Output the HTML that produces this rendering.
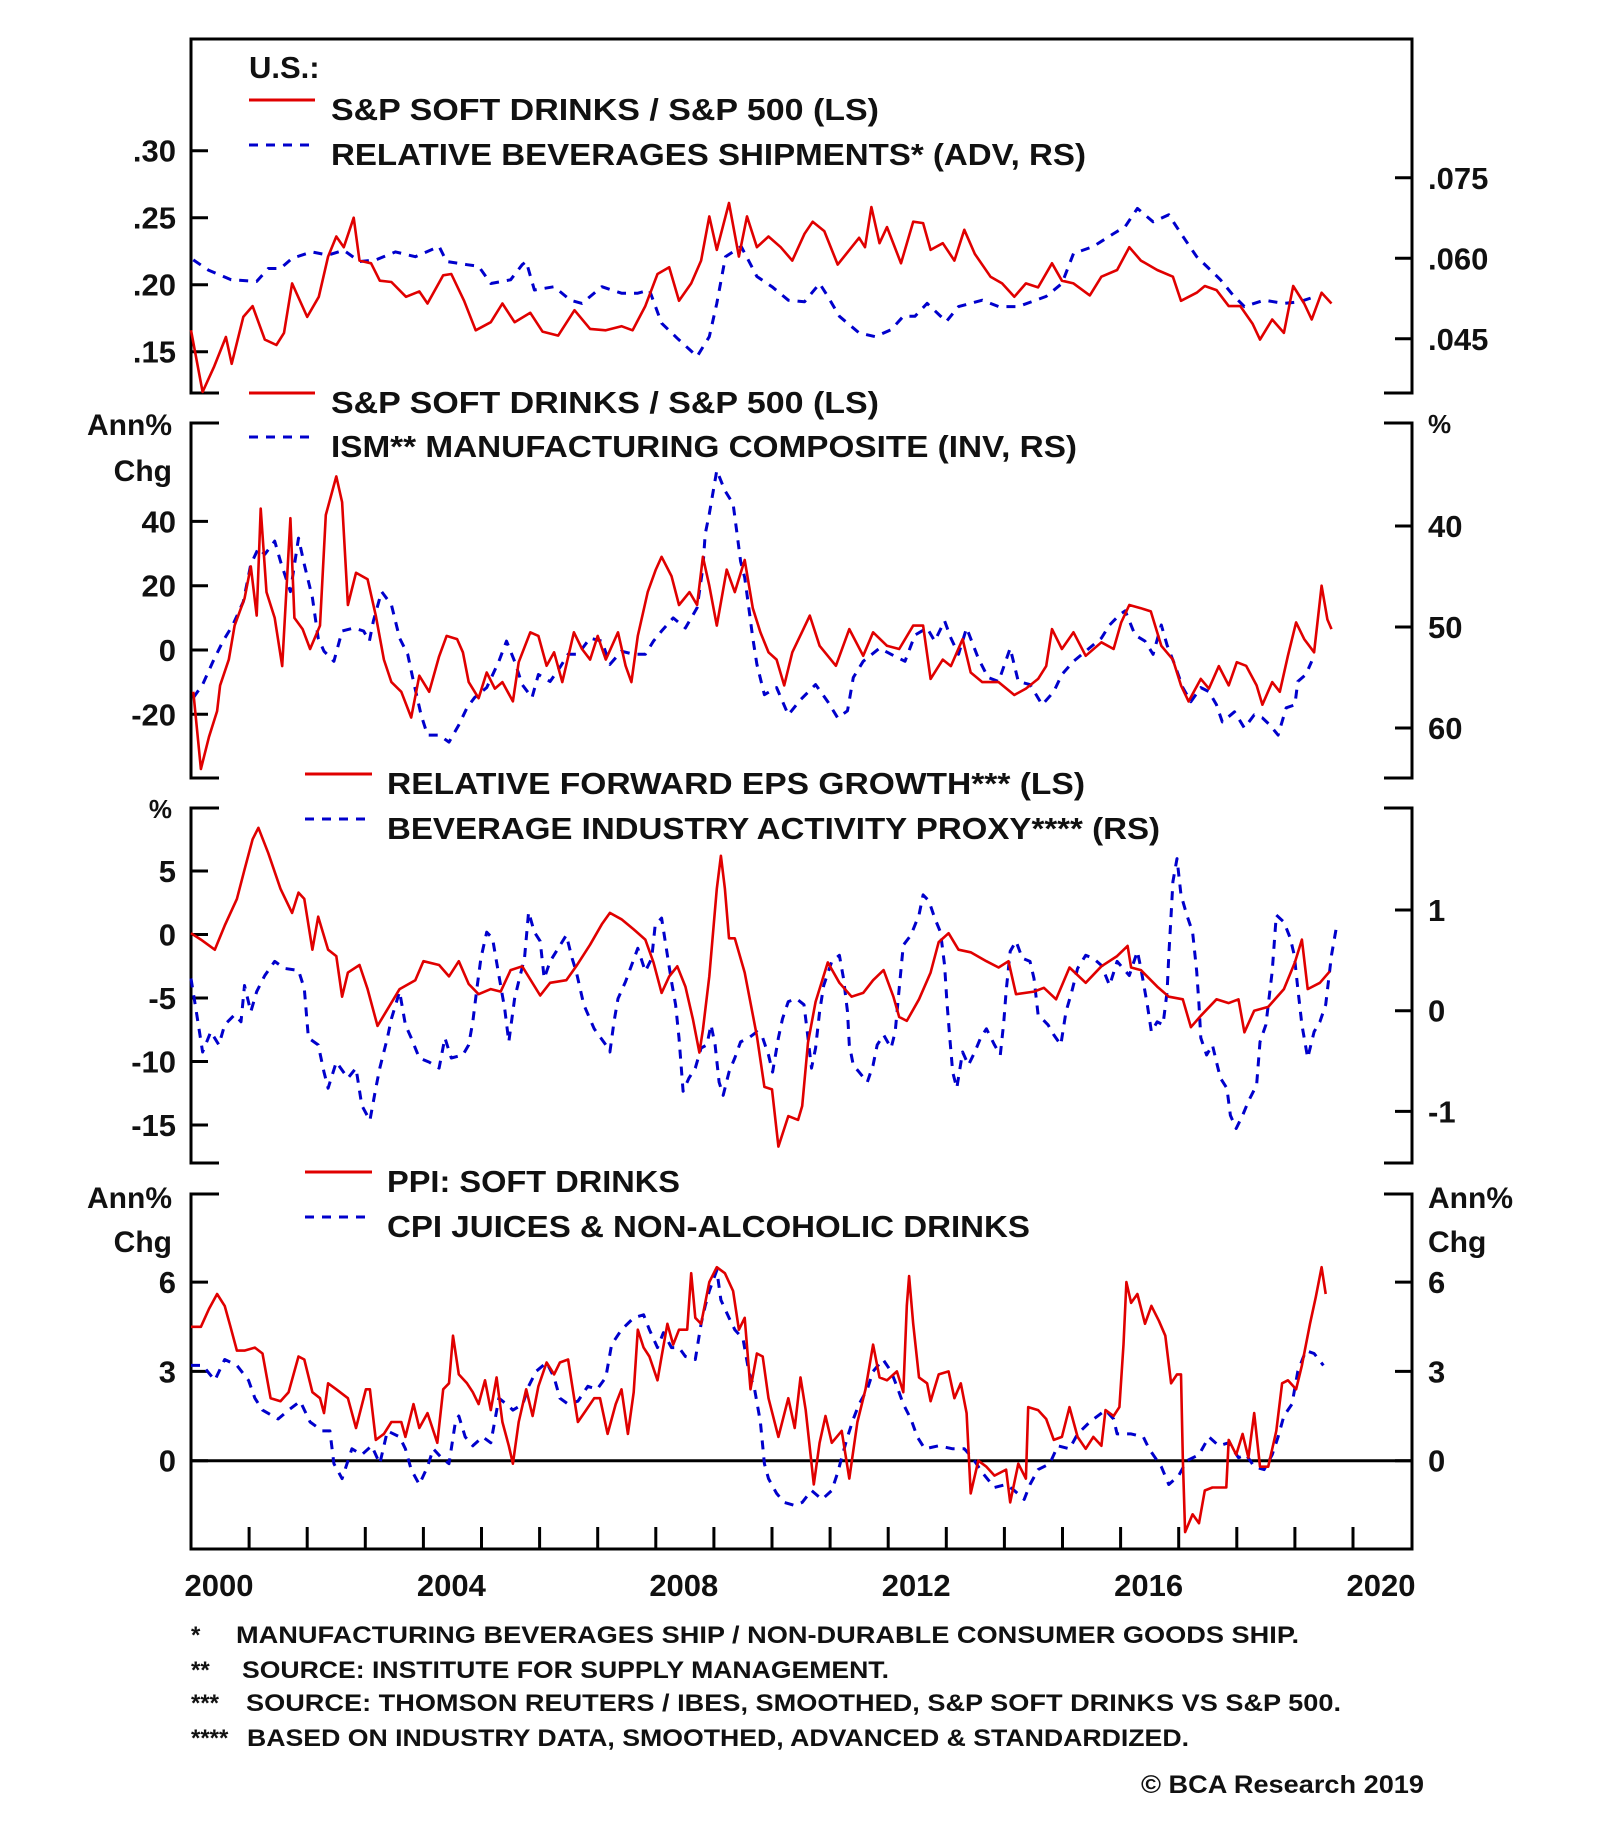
<!DOCTYPE html>
<html><head><meta charset="utf-8"><style>
html,body{margin:0;padding:0;background:#fff;}
svg{display:block;}
text{font-family:"Liberation Sans",Arial,sans-serif;font-weight:bold;fill:#111;}
</style></head><body>
<svg id="chart" width="1600" height="1834" viewBox="0 0 1600 1834" xmlns="http://www.w3.org/2000/svg">
<g id="frames"></g>
<g id="marks"></g>
<g id="labels"></g>

<g>
<text x="249" y="78" font-size="31">U.S.:</text>
<line x1="249" y1="100" x2="315" y2="100" stroke="#e00000" stroke-width="3"/>
<text x="331" y="120" font-size="31" textLength="548" lengthAdjust="spacingAndGlyphs">S&amp;P SOFT DRINKS / S&amp;P 500 (LS)</text>
<line x1="249" y1="145" x2="315" y2="145" stroke="#0000cc" stroke-width="3" stroke-dasharray="9 8"/>
<text x="331" y="165" font-size="31" textLength="755" lengthAdjust="spacingAndGlyphs">RELATIVE BEVERAGES SHIPMENTS* (ADV, RS)</text>
</g>
<g>
<line x1="249" y1="393" x2="315" y2="393" stroke="#e00000" stroke-width="3"/>
<text x="331" y="413" font-size="31" textLength="548" lengthAdjust="spacingAndGlyphs">S&amp;P SOFT DRINKS / S&amp;P 500 (LS)</text>
<line x1="249" y1="437" x2="315" y2="437" stroke="#0000cc" stroke-width="3" stroke-dasharray="9 8"/>
<text x="331" y="457" font-size="31" textLength="746" lengthAdjust="spacingAndGlyphs">ISM** MANUFACTURING COMPOSITE (INV, RS)</text>
</g>
<g>
<line x1="305" y1="774" x2="372" y2="774" stroke="#e00000" stroke-width="3"/>
<text x="387" y="794" font-size="31" textLength="698" lengthAdjust="spacingAndGlyphs">RELATIVE FORWARD EPS GROWTH*** (LS)</text>
<line x1="305" y1="819" x2="372" y2="819" stroke="#0000cc" stroke-width="3" stroke-dasharray="9 8"/>
<text x="387" y="839" font-size="31" textLength="773" lengthAdjust="spacingAndGlyphs">BEVERAGE INDUSTRY ACTIVITY PROXY**** (RS)</text>
</g>
<g>
<line x1="305" y1="1172" x2="372" y2="1172" stroke="#e00000" stroke-width="3"/>
<text x="387" y="1192" font-size="31" textLength="293" lengthAdjust="spacingAndGlyphs">PPI: SOFT DRINKS</text>
<line x1="305" y1="1217" x2="372" y2="1217" stroke="#0000cc" stroke-width="3" stroke-dasharray="9 8"/>
<text x="387" y="1237" font-size="31" textLength="643" lengthAdjust="spacingAndGlyphs">CPI JUICES &amp; NON-ALCOHOLIC DRINKS</text>
</g>

<g>
<text x="172" y="435" font-size="30" text-anchor="end">Ann%</text>
<text x="172" y="481" font-size="30" text-anchor="end">Chg</text>
<text x="1428" y="433" font-size="26">%</text>
<text x="172" y="818" font-size="26" text-anchor="end">%</text>
<text x="172" y="1208" font-size="30" text-anchor="end">Ann%</text>
<text x="172" y="1252" font-size="30" text-anchor="end">Chg</text>
<text x="1428" y="1208" font-size="30">Ann%</text>
<text x="1428" y="1252" font-size="30">Chg</text>
</g>

<g>
<text x="191" y="1643" font-size="24">*</text>
<text x="236" y="1643" font-size="24" textLength="1063" lengthAdjust="spacingAndGlyphs">MANUFACTURING BEVERAGES SHIP / NON-DURABLE CONSUMER GOODS SHIP.</text>
<text x="191" y="1678" font-size="24">**</text>
<text x="242" y="1678" font-size="24" textLength="647" lengthAdjust="spacingAndGlyphs">SOURCE: INSTITUTE FOR SUPPLY MANAGEMENT.</text>
<text x="191" y="1711" font-size="24">***</text>
<text x="246" y="1711" font-size="24" textLength="1095" lengthAdjust="spacingAndGlyphs">SOURCE: THOMSON REUTERS / IBES, SMOOTHED, S&amp;P SOFT DRINKS VS S&amp;P 500.</text>
<text x="191" y="1746" font-size="24">****</text>
<text x="247" y="1746" font-size="24" textLength="942" lengthAdjust="spacingAndGlyphs">BASED ON INDUSTRY DATA, SMOOTHED, ADVANCED &amp; STANDARDIZED.</text>
<text x="1141" y="1793" font-size="25" textLength="283" lengthAdjust="spacingAndGlyphs">© BCA Research 2019</text>
</g>
</svg>
<script>
// ---- data ----
const xTickYears = [2000,2004,2008,2012,2016,2020];
const p1LeftTicks = [0.30,0.25,0.20,0.15];
const p1LeftLabels = [".30",".25",".20",".15"];
const p1RightTicks = [0.075,0.060,0.045];
const p1RightLabels = [".075",".060",".045"];
const p2LeftTicks = [40,20,0,-20];
const p2RightTicks = [40,50,60];
const p3LeftTicks = [5,0,-5,-10,-15];
const p3RightTicks = [1,0,-1];
const p4Ticks = [6,3,0];

const sdYears = [2000.0,2000.2,2000.4,2000.6,2000.7,2000.9,2001.06,2001.27,2001.47,2001.6,2001.74,2002.0,2002.2,2002.36,2002.5,2002.63,2002.8,2002.9,2003.1,2003.25,2003.45,2003.7,2003.93,2004.07,2004.34,2004.48,2004.7,2004.9,2005.16,2005.36,2005.57,2005.84,2006.05,2006.32,2006.6,2006.87,2007.14,2007.41,2007.6,2007.82,2008.03,2008.23,2008.4,2008.61,2008.78,2008.92,2009.05,2009.26,2009.43,2009.57,2009.74,2009.94,2010.15,2010.35,2010.56,2010.7,2010.9,2011.13,2011.37,2011.5,2011.6,2011.71,2011.85,2011.98,2012.22,2012.43,2012.6,2012.73,2012.94,2013.14,2013.31,2013.49,2013.76,2013.96,2014.17,2014.37,2014.58,2014.82,2014.99,2015.19,2015.47,2015.67,2015.94,2016.15,2016.35,2016.63,2016.9,2017.04,2017.31,2017.45,2017.65,2017.86,2018.06,2018.27,2018.4,2018.61,2018.81,2018.97,2019.16,2019.29,2019.46,2019.63];
const sdRatio = [.166,.12,.139,.161,.141,.176,.184,.159,.155,.164,.201,.176,.191,.221,.236,.228,.25,.218,.216,.203,.202,.191,.195,.186,.207,.208,.188,.166,.172,.186,.172,.179,.165,.162,.181,.167,.166,.169,.166,.184,.208,.213,.188,.201,.218,.251,.226,.261,.221,.251,.228,.236,.228,.218,.238,.247,.24,.215,.228,.235,.228,.258,.231,.243,.216,.247,.246,.226,.231,.218,.241,.223,.206,.201,.191,.201,.198,.216,.203,.201,.192,.206,.211,.228,.218,.211,.206,.188,.194,.199,.196,.184,.184,.171,.159,.174,.164,.199,.186,.174,.194,.186];

const shipYears = [2000.04,2000.3,2000.69,2001.13,2001.33,2001.54,2001.74,2002.08,2002.36,2002.63,2002.9,2003.18,2003.52,2003.86,2004.27,2004.4,2004.75,2004.95,2005.16,2005.5,2005.7,2005.77,2005.91,2006.25,2006.53,2006.73,2007.07,2007.41,2007.69,2007.89,2008.1,2008.37,2008.71,2008.92,2009.05,2009.2,2009.47,2009.74,2010.0,2010.28,2010.56,2010.82,2010.96,2011.16,2011.5,2011.78,2012.05,2012.26,2012.46,2012.67,2013.0,2013.21,2013.62,2013.9,2014.24,2014.72,2014.99,2015.19,2015.53,2015.88,2016.08,2016.29,2016.56,2016.83,2017.04,2017.31,2017.52,2017.72,2017.93,2018.13,2018.47,2018.81,2019.08,2019.36];
const shipVals = [.0597,.0578,.056,.0557,.0581,.0581,.060,.0612,.0606,.0615,.0594,.0597,.0612,.0603,.0622,.0594,.0588,.0585,.0553,.056,.0588,.0594,.0541,.0547,.0522,.0516,.0547,.0535,.0535,.0541,.0479,.0451,.0417,.0454,.0516,.0603,.0622,.0566,.0547,.0522,.0519,.0553,.0529,.0492,.0461,.0454,.0467,.0492,.0492,.0516,.0482,.051,.0522,.051,.051,.0529,.0553,.0609,.0622,.0646,.0659,.0693,.0668,.0681,.0646,.0603,.0581,.056,.0532,.051,.0522,.0516,.0519,.0529];

const sdChgYears = [2000.04,2000.17,2000.31,2000.45,2000.5,2000.65,2000.75,2000.92,2001.03,2001.13,2001.2,2001.3,2001.44,2001.57,2001.71,2001.78,2001.92,2002.05,2002.22,2002.32,2002.5,2002.6,2002.7,2002.84,2003.04,2003.18,2003.32,2003.45,2003.62,2003.79,2003.93,2004.1,2004.27,2004.4,2004.58,2004.68,2004.78,2004.95,2005.09,2005.23,2005.36,2005.54,2005.64,2005.84,2005.98,2006.12,2006.25,2006.39,2006.59,2006.73,2006.87,2007.0,2007.14,2007.35,2007.48,2007.58,2007.69,2007.86,2008.0,2008.1,2008.27,2008.4,2008.58,2008.71,2008.81,2008.92,2009.05,2009.22,2009.36,2009.53,2009.67,2009.8,2009.94,2010.08,2010.21,2010.35,2010.5,2010.65,2010.82,2011.1,2011.33,2011.57,2011.74,2011.98,2012.19,2012.43,2012.6,2012.73,2012.94,2013.08,2013.28,2013.42,2013.62,2013.9,2014.17,2014.37,2014.58,2014.72,2014.82,2014.99,2015.19,2015.4,2015.67,2015.88,2016.01,2016.15,2016.35,2016.52,2016.7,2016.9,2017.04,2017.17,2017.38,2017.52,2017.69,2017.86,2018.0,2018.16,2018.34,2018.44,2018.61,2018.74,2018.88,2019.02,2019.16,2019.33,2019.46,2019.56,2019.63];
const sdChgVals = [-13,-37,-27,-19,-11,-3,7.6,16,26,10.7,44,18,10,-5,41,10,6.5,0.3,7.6,42,54,46,14,24,22,10.7,-3,-10,-13,-21,-8,-13,-2,4.4,3.4,-0.7,-10,-15,-7,-12,-10,-16,-3.8,5.5,4.4,-4.9,-0.7,-10,5.5,0.3,-3,4.4,-3,5.5,-4.9,-10,4.4,18,25,29,23,14,18,14,29,20,7.6,25,18,28,13,5.5,-0.7,-3,-11,-0.7,5,10.7,1.3,-4.9,6.5,-1.8,5.5,1.3,0.3,7.6,7.6,-9,-3,-5,3.4,-7,-10,-10,-14,-12,-9,-5,6.5,0.3,5.5,-1.8,2.4,0.3,8.6,14,13,12,1.3,-3,-11,-16,-9,-12,-5,-11,-3.8,-4.9,-11,-17,-10,-13,-1.8,8.6,3.4,-0.7,20,9.5,6.5];

const ismYears = [2000.04,2000.2,2000.38,2000.55,2000.72,2000.9,2001.03,2001.16,2001.27,2001.44,2001.54,2001.71,2001.85,2001.95,2002.09,2002.19,2002.29,2002.46,2002.6,2002.8,2002.97,2003.07,2003.14,2003.28,2003.45,2003.59,2003.73,2003.83,2003.96,2004.07,2004.27,2004.44,2004.61,2004.75,2004.88,2005.09,2005.3,2005.43,2005.57,2005.7,2005.87,2005.98,2006.18,2006.35,2006.49,2006.66,2006.87,2007.07,2007.21,2007.41,2007.62,2007.82,2007.96,2008.1,2008.3,2008.51,2008.71,2008.81,2008.85,2008.92,2009.05,2009.19,2009.33,2009.4,2009.46,2009.53,2009.6,2009.67,2009.74,2009.87,2010.08,2010.28,2010.49,2010.75,2010.96,2011.13,2011.3,2011.4,2011.57,2011.85,2012.05,2012.29,2012.46,2012.67,2012.8,2012.97,2013.08,2013.21,2013.35,2013.55,2013.72,2013.9,2014.1,2014.24,2014.44,2014.65,2014.85,2014.99,2015.19,2015.4,2015.67,2015.81,2015.98,2016.08,2016.25,2016.42,2016.56,2016.7,2016.8,2016.93,2017.07,2017.21,2017.38,2017.52,2017.65,2017.75,2017.96,2018.13,2018.3,2018.44,2018.57,2018.71,2018.85,2019.0,2019.05,2019.19,2019.29];
const ismVals = [57,55.7,53.4,51.4,49.8,47.5,43.8,42.2,42.8,41.5,43.5,46.5,41.2,43.8,47.1,51.1,52.4,53.4,50.4,50.1,50.4,51.4,49.4,46.5,47.8,51.1,52.7,55.4,58.7,60.7,60.7,61.4,59.7,58,57,56,53.4,51.4,53.4,55.7,57,54.7,55.4,54,52.7,52.7,51.1,51.4,53.7,52.4,52.7,52.7,51.4,50.4,49.1,50.1,48.1,44.1,40.8,38.8,34.5,36.5,37.8,40.8,43.5,45.1,48.1,51.1,53.7,56.7,56,58.7,57.2,55.7,57.4,59,58.3,55,53.4,52.1,52.7,53.4,50.8,50.1,51.4,49.4,51.1,52.7,50.1,53.1,55,55.4,52.1,55.4,55.7,57.7,56.4,54.7,53.4,52.4,51.1,49.8,48.8,48.4,50.8,51.4,52.7,49.8,51.8,53.7,56,57.4,56,56.4,57.7,59.4,58.4,60,58.7,59,59.7,60.7,58,57.7,55.4,54.7,53.4];

const epsYears = [2000.0,2000.17,2000.41,2000.58,2000.79,2000.92,2001.06,2001.16,2001.33,2001.54,2001.74,2001.85,2001.95,2002.09,2002.19,2002.36,2002.5,2002.6,2002.7,2002.9,2003.04,2003.21,2003.38,2003.59,2003.86,2004.0,2004.27,2004.44,2004.61,2004.78,2004.95,2005.16,2005.33,2005.5,2005.7,2006.01,2006.18,2006.46,2006.63,2006.87,2007.07,2007.21,2007.41,2007.62,2007.82,2007.96,2008.1,2008.23,2008.37,2008.51,2008.64,2008.75,2008.81,2008.92,2009.05,2009.12,2009.19,2009.26,2009.36,2009.53,2009.74,2009.87,2010.0,2010.11,2010.28,2010.45,2010.52,2010.62,2010.75,2010.96,2011.16,2011.37,2011.57,2011.74,2011.92,2012.09,2012.19,2012.32,2012.53,2012.73,2012.87,2013.04,2013.21,2013.42,2013.69,2013.9,2014.07,2014.2,2014.51,2014.68,2014.89,2015.12,2015.4,2015.67,2015.94,2016.12,2016.18,2016.35,2016.63,2016.83,2017.07,2017.21,2017.38,2017.65,2017.86,2018.03,2018.13,2018.3,2018.54,2018.81,2019.0,2019.12,2019.22,2019.43,2019.6];
const epsVals = [0.1,-0.4,-1.2,0.7,2.8,5.1,7.5,8.4,6.4,3.6,1.7,3.3,2.8,-1.2,1.4,-1.2,-1.7,-4.9,-3,-2.4,-4.3,-7.2,-5.9,-4.3,-3.6,-2.1,-2.4,-3.3,-2.1,-3.9,-4.7,-4.3,-4.5,-2.8,-2.5,-4.8,-3.8,-3.6,-2.5,-0.8,0.8,1.7,1.2,0.4,-0.4,-2.2,-4.6,-3.3,-2.5,-4.1,-6.7,-9.3,-7.5,-3.3,3.6,6.2,3.6,-0.3,-0.3,-3,-8,-12,-12.2,-16.7,-14.3,-14.6,-13.5,-8.5,-5.3,-2.2,-3.8,-4.9,-4.6,-3.6,-2.8,-4.9,-6.5,-6.8,-5.1,-3,-0.6,0.1,-1.2,-1.4,-2.1,-2.6,-2.1,-4.7,-4.5,-4.2,-5.1,-2.6,-3.8,-2.5,-1.7,-0.9,-2.6,-2.8,-4.1,-4.9,-5.1,-7.3,-6.4,-5.1,-5.4,-5.1,-7.7,-6,-5.7,-4.3,-2.2,-0.4,-4.3,-3.8,-2.9];

const proxyYears = [2000.0,2000.1,2000.2,2000.34,2000.48,2000.58,2000.75,2000.86,2000.92,2001.03,2001.13,2001.27,2001.44,2001.61,2001.85,2001.95,2002.02,2002.19,2002.29,2002.36,2002.5,2002.7,2002.84,2002.94,2003.08,2003.18,2003.25,2003.38,2003.45,2003.59,2003.69,2003.79,2003.93,2004.1,2004.27,2004.37,2004.48,2004.68,2004.78,2004.85,2004.92,2004.99,2005.09,2005.19,2005.3,2005.4,2005.47,2005.57,2005.64,2005.74,2005.81,2005.91,2006.01,2006.08,2006.18,2006.32,2006.46,2006.56,2006.63,2006.76,2006.94,2007.14,2007.21,2007.28,2007.35,2007.48,2007.69,2007.82,2007.93,2007.99,2008.1,2008.2,2008.27,2008.34,2008.4,2008.47,2008.57,2008.68,2008.78,2008.88,2008.95,2009.02,2009.09,2009.16,2009.26,2009.36,2009.46,2009.6,2009.74,2009.84,2009.94,2010.01,2010.11,2010.18,2010.28,2010.42,2010.55,2010.62,2010.68,2010.75,2010.82,2010.89,2011.03,2011.16,2011.23,2011.3,2011.33,2011.4,2011.5,2011.64,2011.74,2011.81,2011.92,2012.05,2012.12,2012.19,2012.26,2012.39,2012.53,2012.6,2012.7,2012.8,2012.9,2012.97,2013.01,2013.06,2013.11,2013.18,2013.28,2013.38,2013.49,2013.59,2013.69,2013.83,2013.93,2013.99,2014.03,2014.1,2014.2,2014.31,2014.44,2014.51,2014.58,2014.75,2014.85,2014.97,2015.06,2015.16,2015.26,2015.4,2015.53,2015.67,2015.81,2015.94,2016.15,2016.29,2016.35,2016.46,2016.53,2016.63,2016.73,2016.8,2016.83,2016.87,2016.9,2016.97,2017.04,2017.14,2017.24,2017.31,2017.35,2017.38,2017.48,2017.58,2017.65,2017.72,2017.83,2017.89,2017.99,2018.1,2018.2,2018.34,2018.4,2018.5,2018.61,2018.68,2018.81,2018.92,2018.99,2019.05,2019.12,2019.22,2019.33,2019.43,2019.53,2019.63,2019.73];
const proxyVals = [0.32,-0.04,-0.41,-0.21,-0.34,-0.14,-0.04,-0.11,0.25,-0.01,0.19,0.35,0.49,0.42,0.4,0.22,-0.27,-0.34,-0.61,-0.77,-0.51,-0.67,-0.57,-0.94,-1.09,-0.77,-0.57,-0.27,-0.08,0.19,-0.14,-0.27,-0.47,-0.51,-0.57,-0.27,-0.47,-0.44,-0.34,-0.11,0.22,0.52,0.78,0.72,0.35,0.02,-0.31,0.12,0.29,0.52,0.98,0.78,0.69,0.32,0.49,0.62,0.75,0.52,0.39,0.06,-0.18,-0.34,-0.41,-0.11,0.12,0.29,0.62,0.39,0.52,0.85,0.92,0.55,0.29,0.06,-0.27,-0.8,-0.67,-0.57,-0.37,-0.34,-0.14,-0.34,-0.71,-0.84,-0.61,-0.47,-0.31,-0.27,-0.21,-0.27,-0.44,-0.61,-0.27,-0.08,0.09,0.12,0.06,-0.27,-0.57,-0.37,-0.01,0.25,0.49,0.55,0.32,-0.01,-0.34,-0.54,-0.61,-0.71,-0.54,-0.34,-0.24,-0.37,-0.21,0.22,0.65,0.75,0.95,1.15,1.09,0.92,0.78,0.45,0.09,-0.27,-0.61,-0.77,-0.41,-0.54,-0.41,-0.27,-0.18,-0.34,-0.44,-0.11,0.19,0.59,0.69,0.52,0.49,0.32,-0.04,-0.14,-0.24,-0.34,-0.01,0.19,0.42,0.55,0.52,0.45,0.25,0.49,0.35,0.59,0.42,0.06,-0.21,-0.11,-0.14,0.19,0.55,0.95,1.28,1.51,1.15,0.95,0.78,0.39,0.06,-0.27,-0.44,-0.34,-0.51,-0.67,-0.77,-1.04,-1.17,-1.04,-0.9,-0.74,-0.31,-0.14,0.39,0.95,0.88,0.72,0.55,0.22,-0.14,-0.47,-0.21,-0.11,0.06,0.55,0.88];

const ppiYears = [2000.0,2000.17,2000.31,2000.45,2000.58,2000.68,2000.79,2000.92,2001.1,2001.23,2001.37,2001.54,2001.68,2001.85,2001.95,2002.09,2002.22,2002.29,2002.36,2002.5,2002.7,2002.84,2003.01,2003.08,2003.18,2003.32,2003.45,2003.62,2003.69,2003.83,2003.93,2004.07,2004.24,2004.34,2004.44,2004.51,2004.61,2004.75,2004.85,2004.95,2005.06,2005.16,2005.26,2005.36,2005.47,2005.54,2005.64,2005.77,2005.88,2005.98,2006.12,2006.25,2006.35,2006.49,2006.66,2006.8,2006.94,2007.04,2007.17,2007.31,2007.41,2007.52,2007.62,2007.69,2007.79,2007.89,2008.03,2008.1,2008.2,2008.3,2008.4,2008.54,2008.61,2008.68,2008.78,2008.92,2009.05,2009.19,2009.33,2009.43,2009.53,2009.63,2009.74,2009.84,2009.94,2010.11,2010.28,2010.39,2010.49,2010.58,2010.72,2010.82,2010.92,2011.03,2011.2,2011.33,2011.47,2011.61,2011.74,2011.85,2011.98,2012.15,2012.26,2012.32,2012.36,2012.43,2012.53,2012.67,2012.73,2012.87,2013.04,2013.14,2013.25,2013.35,2013.42,2013.55,2013.69,2013.83,2014.03,2014.1,2014.24,2014.37,2014.41,2014.58,2014.72,2014.85,2014.99,2015.12,2015.26,2015.4,2015.53,2015.67,2015.74,2015.88,2015.98,2016.05,2016.1,2016.18,2016.29,2016.42,2016.53,2016.66,2016.77,2016.87,2016.97,2017.04,2017.07,2017.11,2017.24,2017.35,2017.45,2017.58,2017.82,2017.86,2017.99,2018.1,2018.2,2018.3,2018.4,2018.54,2018.68,2018.78,2018.88,2019.02,2019.12,2019.26,2019.36,2019.46,2019.53];
const ppiVals = [4.5,4.5,5.1,5.6,5.2,4.5,3.7,3.7,3.8,3.6,2.1,2.0,2.3,3.5,3.4,2.3,2.1,1.6,2.6,2.4,2.1,1.1,2.4,2.4,0.7,0.9,1.3,1.3,0.8,1.9,1.1,1.6,0.6,2.4,2.6,4.2,2.9,2.6,2.3,1.9,2.7,1.7,2.8,1.3,0.5,-0.1,1.3,2.4,1.5,2.5,3.3,2.9,3.3,3.4,1.3,1.7,2.1,2.1,0.9,1.9,2.4,0.9,2.3,4.4,3.8,3.5,2.7,3.5,4.6,3.9,4.4,4.4,6.3,4.8,4.6,6.0,6.5,6.3,5.7,4.4,4.8,2.4,3.6,3.5,2.1,0.8,2.1,1.1,2.8,1.7,-0.8,0.6,1.5,0.6,1.0,-0.6,1.3,2.4,3.9,2.8,2.7,3.0,2.3,5.2,6.2,4.6,2.8,2.6,2.0,2.9,3.0,2.1,2.6,1.6,-1.1,0.0,-0.2,-0.5,-0.3,-1.4,-0.1,-0.6,1.8,1.7,1.4,0.7,0.8,1.8,0.8,0.4,0.8,0.5,1.7,1.5,1.8,3.9,6.0,5.3,5.6,4.6,5.2,4.7,4.2,2.6,2.9,2.9,0.1,-2.4,-1.8,-2.1,-1.0,-0.9,-0.9,0.7,0.2,0.9,0.1,1.6,-0.2,-0.2,1.0,2.6,2.7,2.4,3.2,4.6,5.5,6.5,5.6];

const cpiYears = [2000.0,2000.2,2000.41,2000.58,2000.79,2000.99,2001.1,2001.23,2001.5,2001.68,2001.88,2002.05,2002.26,2002.39,2002.46,2002.6,2002.77,2002.94,2003.11,2003.25,2003.38,2003.59,2003.69,2003.79,2003.93,2004.07,2004.17,2004.31,2004.44,2004.55,2004.61,2004.72,2004.85,2005.02,2005.16,2005.3,2005.43,2005.54,2005.71,2005.81,2005.94,2006.12,2006.25,2006.35,2006.49,2006.66,2006.83,2006.99,2007.14,2007.24,2007.41,2007.62,2007.79,2007.89,2008.03,2008.13,2008.27,2008.4,2008.51,2008.68,2008.78,2008.85,2008.92,2009.05,2009.12,2009.26,2009.36,2009.5,2009.6,2009.7,2009.8,2009.87,2009.94,2010.08,2010.21,2010.39,2010.52,2010.68,2010.86,2011.03,2011.13,2011.2,2011.3,2011.4,2011.5,2011.64,2011.74,2011.91,2012.05,2012.15,2012.26,2012.39,2012.5,2012.63,2012.87,2013.11,2013.31,2013.45,2013.62,2013.83,2014.03,2014.17,2014.34,2014.44,2014.58,2014.78,2014.92,2015.12,2015.26,2015.47,2015.74,2015.88,2015.94,2016.18,2016.39,2016.49,2016.7,2016.83,2017.0,2017.14,2017.35,2017.52,2017.69,2017.86,2018.03,2018.16,2018.3,2018.47,2018.61,2018.71,2018.81,2018.95,2019.05,2019.19,2019.33,2019.49];
const cpiVals = [3.2,3.2,2.7,3.4,3.2,2.7,2.1,1.7,1.4,1.7,2.0,1.3,1.0,1.0,-0.1,-0.6,0.4,0.2,0.5,-0.1,1.0,0.8,0.4,-0.3,-0.8,-0.2,0.4,0.1,-0.1,1.3,1.5,0.8,0.5,0.8,0.6,2.1,1.9,1.7,1.9,2.5,3.0,3.3,2.8,2.1,1.9,2.0,2.5,2.4,2.8,3.9,4.4,4.8,4.9,4.4,3.8,4.3,3.8,3.8,3.5,3.4,4.6,5.2,5.7,6.4,5.4,4.8,4.4,4.1,3.0,2.4,1.3,-0.1,-0.6,-1.1,-1.4,-1.5,-1.4,-1.0,-1.3,-1.0,-0.4,0.1,0.8,1.4,1.9,2.4,3.0,3.4,3.0,2.5,1.9,1.4,0.8,0.4,0.5,0.4,0.4,0.1,-0.4,-0.9,-0.8,-1.0,-1.3,-0.8,-0.3,-0.1,0.5,0.4,0.9,1.3,1.7,1.4,0.9,0.9,0.8,0.4,-0.2,-0.8,-0.5,0.0,0.2,0.8,0.5,0.6,0.1,0.2,-0.2,-0.3,0.2,0.8,1.5,1.9,3.0,3.7,3.6,3.2];

// ---- geometry ----
const NS = "http://www.w3.org/2000/svg";
const L = 191, R = 1412;
function X(yr){ return L + (yr - 2000) * 58.1; }
const y1L = v => 217.7 - (v - 0.25) / 0.05 * 67;
const y1R = v => 258.3 - (v - 0.060) / 0.015 * 80.5;
const y2L = v => 650 - v / 20 * 64.3;
const y2R = v => 627 + (v - 50) / 10 * 101;
const y3L = v => 934.5 - v / 5 * 63.5;
const y3R = v => 1010.7 - v * 100.7;
const y4 = v => 1460.7 - v / 3 * 89.3;
const panels = [[39,393],[423,778],[808,1163],[1194,1549]];

function mk(tag, attrs, parent){
  const e = document.createElementNS(NS, tag);
  for (const k in attrs) e.setAttribute(k, attrs[k]);
  parent.appendChild(e);
  return e;
}
const fr = document.getElementById('frames');
const mk2 = document.getElementById('marks');
const lb = document.getElementById('labels');
const AX = {stroke:'#000','stroke-width':3,fill:'none'};

// frames
panels.forEach(function(p, i){
  const g = mk('g', {}, fr);
  
  
  mk('line', Object.assign({x1:L,y1:p[0],x2:L,y2:p[1]}, AX), g);
  mk('line', Object.assign({x1:R,y1:p[0],x2:R,y2:p[1]}, AX), g);
  mk('line', Object.assign({x1:L-1.5,y1:p[0],x2:L+28,y2:p[0]}, AX), g);
  mk('line', Object.assign({x1:L-1.5,y1:p[1],x2:L+28,y2:p[1]}, AX), g);
  mk('line', Object.assign({x1:R-28,y1:p[0],x2:R+1.5,y2:p[0]}, AX), g);
  mk('line', Object.assign({x1:R-28,y1:p[1],x2:R+1.5,y2:p[1]}, AX), g);
});
mk('line', Object.assign({x1:L,y1:39,x2:R,y2:39}, AX), fr);
mk('line', Object.assign({x1:L,y1:1549,x2:R,y2:1549}, AX), fr);
const zl = mk('line', Object.assign({x1:L,y1:y4(0),x2:R,y2:y4(0)}, AX), fr);


for (let yr = 2001; yr <= 2020; yr++){
  mk('line', Object.assign({x1:X(yr),y1:1549,x2:X(yr),y2:1527}, AX), fr);
}

function ticks(vals, labels, fn, side){
  vals.forEach(function(v, i){
    const y = fn(v);
    if (side === 'L') mk('line', Object.assign({x1:L,y1:y,x2:L+17,y2:y}, AX), fr);
    else mk('line', Object.assign({x1:R-17,y1:y,x2:R,y2:y}, AX), fr);
    const t = mk('text', {x: side==='L' ? 176 : 1428, y: y + 11, 'font-size': 31, 'text-anchor': side==='L' ? 'end' : 'start'}, lb);
    
    
    t.textContent = labels[i];
  });
}
ticks(p1LeftTicks, p1LeftLabels, y1L, 'L');
ticks(p1RightTicks, p1RightLabels, y1R, 'R');
ticks(p2LeftTicks, p2LeftTicks.map(String), y2L, 'L');
ticks(p2RightTicks, p2RightTicks.map(String), y2R, 'R');
ticks(p3LeftTicks, p3LeftTicks.map(String), y3L, 'L');
ticks(p3RightTicks, p3RightTicks.map(String), y3R, 'R');
ticks(p4Ticks, p4Ticks.map(String), y4, 'L');
ticks(p4Ticks, p4Ticks.map(String), y4, 'R');

xTickYears.forEach(function(yr){
  const t = mk('text', {x: X(yr) + 28, y: 1596, 'font-size': 31, 'text-anchor': 'middle'}, lb);
  
  
  t.textContent = String(yr);
});

function series(years, vals, fn, color, dashed, name){
  const pts = years.map(function(yr, i){ return X(yr).toFixed(1) + ',' + fn(vals[i]).toFixed(1); }).join(' ');
  const a = {points: pts, fill:'none', stroke: color, 'stroke-width': dashed ? 3 : 2.6, 'stroke-linejoin':'round'};
  if (dashed) a['stroke-dasharray'] = '9 8';
  const pl = mk('polyline', a, mk2);
  
  
}
series(shipYears, shipVals, y1R, '#0000cc', true, 'beverage-shipments-line');
series(sdYears, sdRatio, y1L, '#e00000', false, 'soft-drinks-ratio-line');
series(ismYears, ismVals, y2R, '#0000cc', true, 'ism-line');
series(sdChgYears, sdChgVals, y2L, '#e00000', false, 'soft-drinks-chg-line');
series(proxyYears, proxyVals, y3R, '#0000cc', true, 'activity-proxy-line');
series(epsYears, epsVals, y3L, '#e00000', false, 'eps-growth-line');
series(cpiYears, cpiVals, y4, '#0000cc', true, 'cpi-line');
series(ppiYears, ppiVals, y4, '#e00000', false, 'ppi-line');
</script>
</body></html>
